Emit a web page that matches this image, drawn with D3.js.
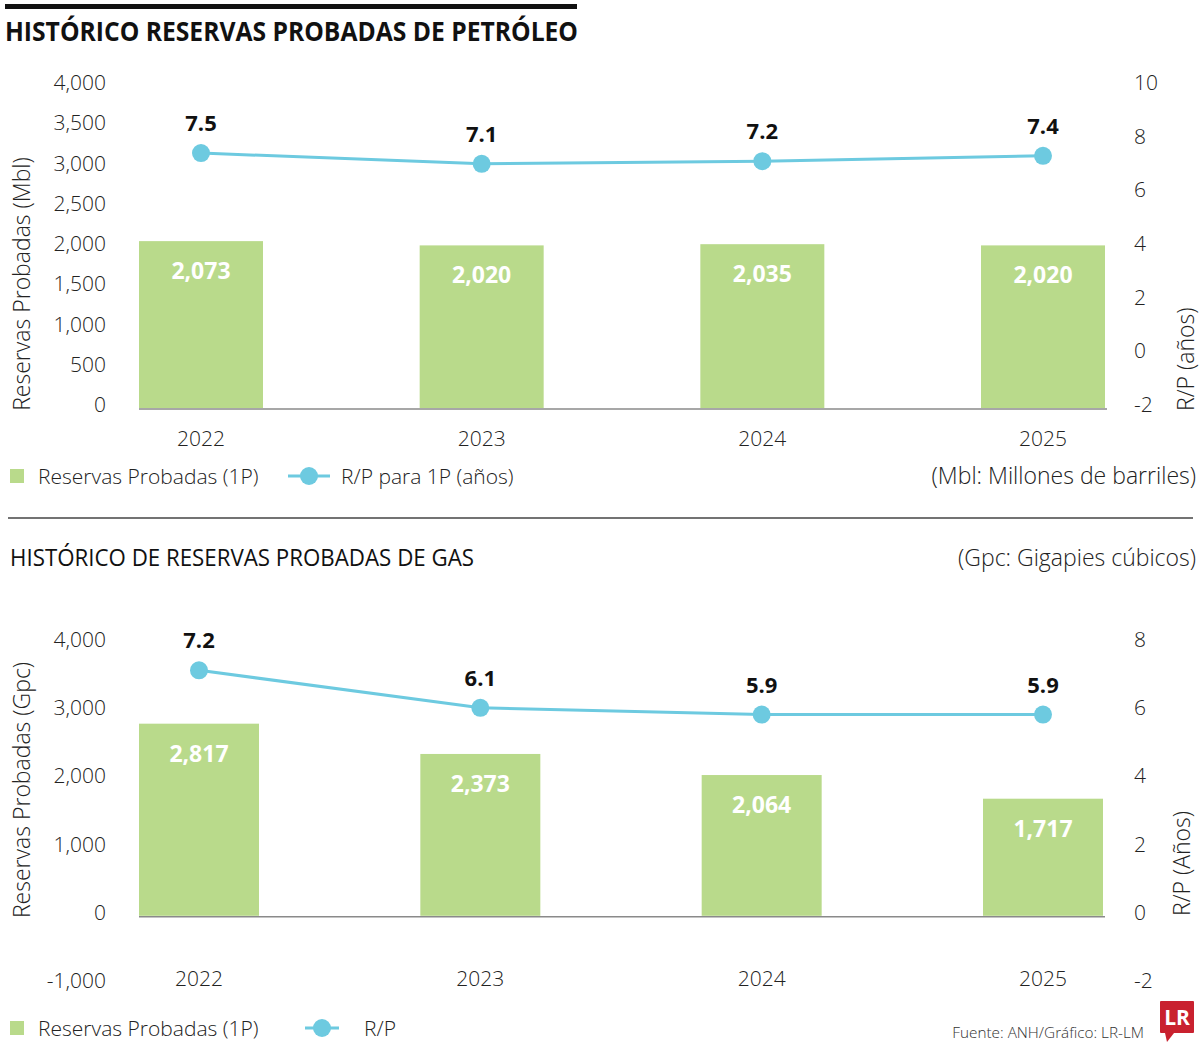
<!DOCTYPE html>
<html>
<head>
<meta charset="utf-8">
<script src="https://cdn.jsdelivr.net/npm/d3@7"></script>
<style>
  body { margin: 0; background: #fff; }
  svg { display: block; }
  text { font-family: "Open Sans", "Noto Sans", sans-serif; }
</style>
</head>
<body>
<svg id="renderer" width="1200" height="1049"></svg>
<script>
const years = ['2022', '2023', '2024', '2025'];

// petróleo
const oilReserves = [2073, 2020, 2035, 2020];
const oilRP = [7.5, 7.1, 7.2, 7.4];
const oilLeftTicks = [0, 500, 1000, 1500, 2000, 2500, 3000, 3500, 4000];
const oilRightTicks = [-2, 0, 2, 4, 6, 8, 10];

// gas
const gasReserves = [2817, 2373, 2064, 1717];
const gasRP = [7.2, 6.1, 5.9, 5.9];
const gasLeftTicks = [-1000, 0, 1000, 2000, 3000, 4000];
const gasRightTicks = [-2, 0, 2, 4, 6, 8];

const GREEN = '#b9da8b';
const BLUE = '#6dcae0';
const fmt = d => d3.format(',')(d).replace('\u2212', '-');

const svg = d3.select('#renderer');

// barra negra superior
svg.append('rect').attr('x', 5).attr('y', 4).attr('width', 572).attr('height', 5).attr('fill', '#111');

svg.append('text')
    .attr('x', 5).attr('y', 41)
    .attr('font-family', '"Liberation Sans Narrow", "DejaVu Sans Condensed", sans-serif')
    .attr('font-weight', 700).attr('font-size', 26)
    .attr('textLength', 573).attr('lengthAdjust', 'spacingAndGlyphs')
    .attr('fill', '#111')
    .text('HISTÓRICO RESERVAS PROBADAS DE PETRÓLEO');

function drawChart(cfg) {
    const g = svg.append('g');

    const x = d3.scalePoint().domain(years).range(cfg.xRange);
    const yL = d3.scaleLinear().domain(cfg.leftDomain).range(cfg.yRange);
    const yR = d3.scaleLinear().domain(cfg.rightDomain).range(cfg.yRange);

    // ejes izquierdo y derecho (solo etiquetas)
    const left = d3.axisLeft(yL).tickValues(cfg.leftTicks).tickFormat(fmt).tickSize(0).tickPadding(0);
    const ga = g.append('g').attr('transform', 'translate(106,-4)').call(left);
    ga.select('.domain').remove();
    ga.selectAll('text').attr('font-size', 21).attr('font-weight', 300).attr('fill', '#222')
        .attr('font-family', '"Open Sans", sans-serif').attr('dy', '0.36em');

    const right = d3.axisRight(yR).tickValues(cfg.rightTicks).tickFormat(fmt).tickSize(0).tickPadding(0);
    const gr = g.append('g').attr('transform', 'translate(1134,-4)').call(right);
    gr.select('.domain').remove();
    gr.selectAll('text').attr('font-size', 21).attr('font-weight', 300).attr('fill', '#222')
        .attr('font-family', '"Open Sans", sans-serif').attr('dy', '0.36em');

    // barras
    g.selectAll('.bar').data(cfg.reserves).enter().append('rect')
        .attr('x', (d, i) => x(years[i]) - cfg.barW / 2)
        .attr('y', d => yL(d))
        .attr('width', cfg.barW)
        .attr('height', d => yL(0) - yL(d))
        .attr('fill', GREEN);

    g.selectAll('.barlabel').data(cfg.reserves).enter().append('text')
        .attr('x', (d, i) => x(years[i]))
        .attr('y', d => yL(d) + 38)
        .attr('text-anchor', 'middle')
        .attr('font-size', 23).attr('font-weight', 700).attr('fill', '#fff')
        .text(d => fmt(d));

    // línea base
    g.append('line')
        .attr('x1', x(years[0]) - cfg.barW / 2).attr('x2', x(years[3]) + cfg.barW / 2 + 2)
        .attr('y1', yL(0) + 1).attr('y2', yL(0) + 1)
        .attr('stroke', '#8a8a8a').attr('stroke-width', 1.5);

    // años
    g.selectAll('.year').data(years).enter().append('text')
        .attr('x', d => x(d))
        .attr('y', cfg.yearY)
        .attr('text-anchor', 'middle')
        .attr('font-size', 21).attr('font-weight', 300).attr('fill', '#222')
        .text(d => d);

    // línea R/P
    const line = d3.line().x((d, i) => x(years[i])).y(d => yR(d));
    g.append('path').datum(cfg.rp)
        .attr('d', line).attr('fill', 'none')
        .attr('stroke', BLUE).attr('stroke-width', 3);

    g.selectAll('.pt').data(cfg.rp).enter().append('circle')
        .attr('cx', (d, i) => x(years[i]))
        .attr('cy', d => yR(d))
        .attr('r', 9).attr('fill', BLUE);

    g.selectAll('.ptlabel').data(cfg.rp).enter().append('text')
        .attr('x', (d, i) => x(years[i]))
        .attr('y', d => yR(d) - 22)
        .attr('text-anchor', 'middle')
        .attr('font-size', 22).attr('font-weight', 700).attr('fill', '#111')
        .text(d => d.toFixed(1));

    // títulos de ejes
    g.append('text')
        .attr('transform', 'translate(30,' + cfg.leftTitleY + ') rotate(-90)')
        .attr('text-anchor', 'middle')
        .attr('font-size', 23).attr('font-weight', 300).attr('fill', '#222')
        .text(cfg.leftTitle);

    g.append('text')
        .attr('transform', 'translate(' + cfg.rightTitleX + ',' + cfg.rightTitleY + ') rotate(-90)')
        .attr('text-anchor', 'start')
        .attr('font-size', 23).attr('font-weight', 300).attr('fill', '#222')
        .text(cfg.rightTitle);

    // leyenda
    const lg = g.append('g').attr('transform', 'translate(0,' + cfg.legendY + ')');
    lg.append('rect').attr('x', 10).attr('y', -7).attr('width', 14).attr('height', 14).attr('fill', GREEN);
    lg.append('text').attr('x', 38).attr('y', 0).attr('dy', '0.36em')
        .attr('font-size', 21).attr('font-weight', 300).attr('fill', '#222')
        .text('Reservas Probadas (1P)');
    lg.append('line').attr('x1', cfg.legendLine[0]).attr('x2', cfg.legendLine[1])
        .attr('y1', 0).attr('y2', 0).attr('stroke', BLUE).attr('stroke-width', 3);
    lg.append('circle').attr('cx', (cfg.legendLine[0] + cfg.legendLine[1]) / 2).attr('cy', 0)
        .attr('r', 9).attr('fill', BLUE);
    lg.append('text').attr('x', cfg.legendLine[1] + cfg.legendGap).attr('y', 0).attr('dy', '0.36em')
        .attr('font-size', 21).attr('font-weight', 300).attr('fill', '#222')
        .text(cfg.rpLegend);
}

drawChart({
    reserves: oilReserves, rp: oilRP,
    leftTicks: oilLeftTicks, rightTicks: oilRightTicks,
    leftDomain: [0, 4000], rightDomain: [-2, 10],
    xRange: [201, 1043], yRange: [408, 86], barW: 124,
    yearY: 446,
    leftTitle: 'Reservas Probadas (Mbl)', leftTitleY: 284,
    rightTitle: 'R/P (años)', rightTitleX: 1194, rightTitleY: 411,
    legendY: 476, legendLine: [288, 330], legendGap: 11,
    rpLegend: 'R/P para 1P (años)'
});

drawChart({
    reserves: gasReserves, rp: gasRP,
    leftTicks: gasLeftTicks, rightTicks: gasRightTicks,
    leftDomain: [-1000, 4000], rightDomain: [-2, 8],
    xRange: [199, 1043], yRange: [984, 643], barW: 120,
    yearY: 986,
    leftTitle: 'Reservas Probadas (Gpc)', leftTitleY: 790,
    rightTitle: 'R/P (Años)', rightTitleX: 1190, rightTitleY: 916,
    legendY: 1028, legendLine: [305, 339], legendGap: 25,
    rpLegend: 'R/P'
});

// notas de unidades
svg.append('text').attr('x', 1196).attr('y', 476).attr('dy', '0.36em')
    .attr('text-anchor', 'end').attr('font-size', 23).attr('font-weight', 300).attr('fill', '#222')
    .text('(Mbl: Millones de barriles)');

svg.append('line').attr('x1', 8).attr('x2', 1193).attr('y1', 518).attr('y2', 518)
    .attr('stroke', '#444').attr('stroke-width', 1.5);

svg.append('text')
    .attr('x', 10).attr('y', 566)
    .attr('font-family', '"Liberation Sans Narrow", "DejaVu Sans Condensed", sans-serif')
    .attr('font-size', 24)
    .attr('textLength', 464).attr('lengthAdjust', 'spacingAndGlyphs')
    .attr('fill', '#111')
    .text('HISTÓRICO DE RESERVAS PROBADAS DE GAS');

svg.append('text').attr('x', 1196).attr('y', 558).attr('dy', '0.36em')
    .attr('text-anchor', 'end').attr('font-size', 23).attr('font-weight', 300).attr('fill', '#222')
    .text('(Gpc: Gigapies cúbicos)');

// fuente y logo
svg.append('text').attr('x', 1144).attr('y', 1038)
    .attr('text-anchor', 'end').attr('font-size', 15.3).attr('font-weight', 300).attr('fill', '#333')
    .text('Fuente: ANH/Gráfico: LR-LM');

const logo = svg.append('g').attr('transform', 'translate(1160,1001)');
logo.append('rect').attr('width', 34).attr('height', 32).attr('rx', 1).attr('fill', '#c9212f');
logo.append('path').attr('d', 'M5,32 L14,32 L7,41 Z').attr('fill', '#c9212f');
logo.append('text').attr('x', 17).attr('y', 24).attr('text-anchor', 'middle')
    .attr('font-family', '"Liberation Serif", "DejaVu Serif", serif')
    .attr('font-weight', 700).attr('font-size', 21).attr('fill', '#fff')
    .text('LR');
</script>
</body>
</html>
